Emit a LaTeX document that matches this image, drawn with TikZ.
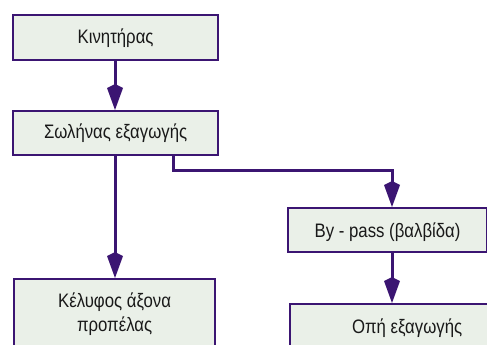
\documentclass[tikz,border=0pt]{standalone}
\usepackage{fontspec}
\setmainfont[FakeStretch=0.86]{Liberation Sans}
\usetikzlibrary{arrows.meta}
\definecolor{pline}{HTML}{3B1572}
\definecolor{pfill}{HTML}{EAF0E8}
\tikzset{
  box/.style={draw=pline, fill=pfill, line width=2.2pt, inner xsep=0pt, inner ysep=0pt,
    font=\fontsize{19.5}{24}\selectfont, text=black!90, align=center, anchor=north west},
  arr/.style={draw=pline, line width=3pt, -{Kite[length=26pt,width=16pt,inset=4pt]}},
}
\begin{document}
\begin{tikzpicture}[x=1pt,y=-1pt]
\useasboundingbox (0,0) rectangle (487,345);
\clip (0,0) rectangle (487,345);
\node[box, minimum width=205pt, text height=28pt, text depth=17pt] (k1) at (12,14) {Κινητήρας};
\node[box, minimum width=205pt, text height=27pt, text depth=17pt] (k2) at (12,110) {Σωλήνας εξαγωγής};
\node[box, minimum width=201pt, minimum height=71pt, inner ysep=0pt] (k3) at (13,278) {Κέλυφος άξονα\\προπέλας};
\node[box, minimum width=199pt, text height=29pt, text depth=15pt] (k4) at (287,207) {By - pass (βαλβίδα)};
\node[box, minimum width=234pt, text height=29pt, text depth=23pt] (k5) at (289,303) {Οπή εξαγωγής};
\coordinate (a1) at (115,0);
\coordinate (b1) at (173,170);
\coordinate (b2) at (392,0);
\draw[arr] (k1.south -| a1) -- (k2.north -| a1);
\draw[arr] (k2.south -| a1) -- (k3.north -| a1);
\draw[arr] (k2.south -| b1) -- (b1) -| (k4.north -| b2);
\draw[arr] (k4.south -| b2) -- (k5.north -| b2);
\end{tikzpicture}
\end{document}
